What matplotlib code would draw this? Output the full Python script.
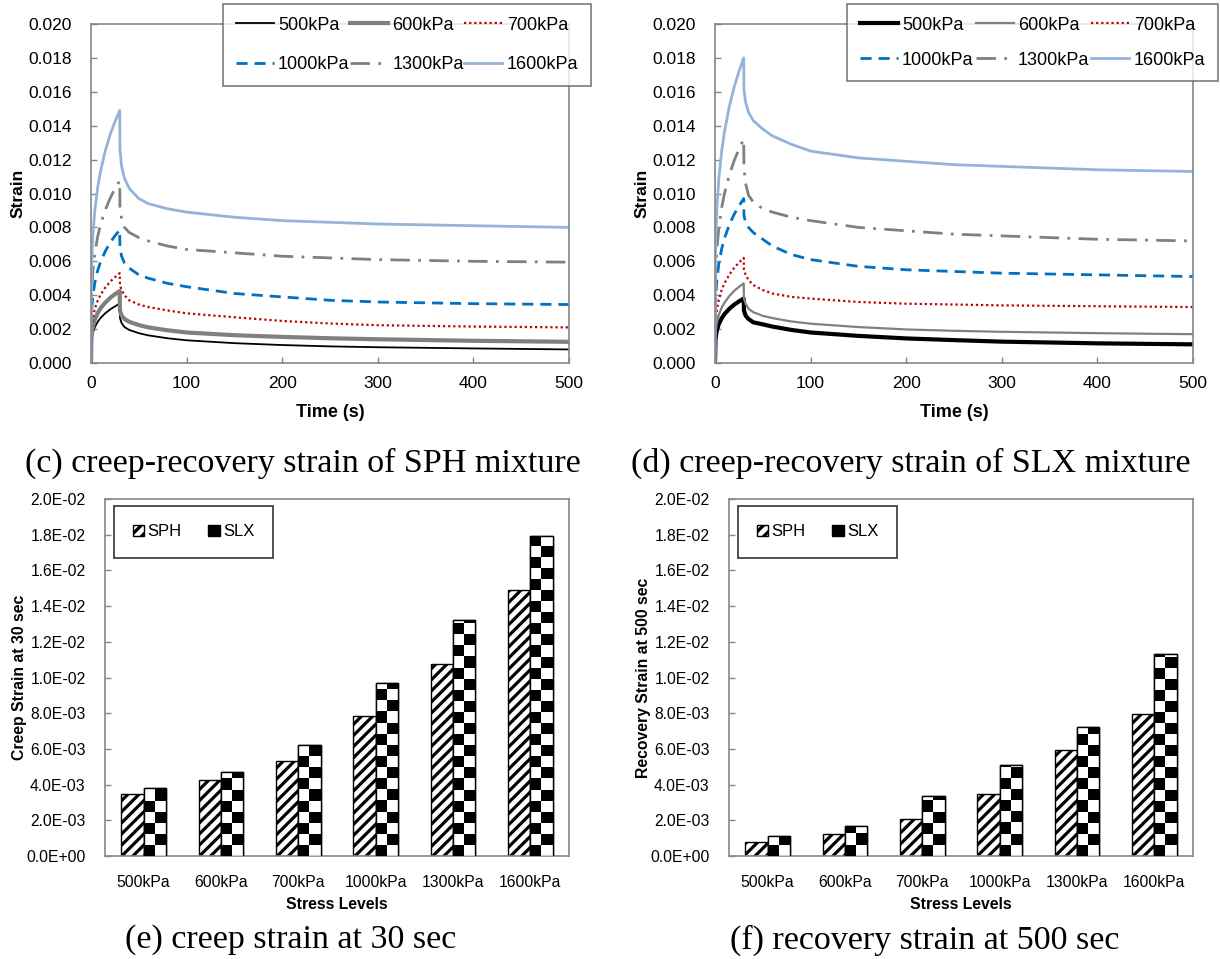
import numpy as np
import matplotlib
matplotlib.use('Agg')
import matplotlib.pyplot as plt
from matplotlib.patches import Patch
from matplotlib.ticker import FuncFormatter, MultipleLocator

plt.rcParams['font.family'] = ['Liberation Sans', 'DejaVu Sans']
plt.rcParams['hatch.linewidth'] = 2.3

# ---- data ----
stress_labels = ['500kPa', '600kPa', '700kPa', '1000kPa', '1300kPa', '1600kPa']

# time (s): loading 0-30 s, then recovery to 500 s
time_s = [0, 0.5, 1, 2, 4, 7, 10, 15, 20, 25, 30,
          30.3, 32, 35, 40, 50, 60, 80, 100, 150, 200, 250, 300, 400, 500]

# SPH mixture strain curves
sph_500 = [0, 0.00126, 0.00149, 0.00178, 0.00211, 0.00243, 0.00266, 0.00294, 0.00316, 0.00334, 0.0035,
           0.00265, 0.00236, 0.00212, 0.00195, 0.00176, 0.00163, 0.00146, 0.00134, 0.00117, 0.00106,
           0.00098, 0.00093, 0.00086, 0.0008]
sph_600 = [0, 0.00153, 0.00181, 0.00216, 0.00257, 0.00295, 0.00323, 0.00357, 0.00384, 0.00406, 0.00425,
           0.0031, 0.0028, 0.0026, 0.00243, 0.00224, 0.0021, 0.00193, 0.0018, 0.00164, 0.00154,
           0.00146, 0.0014, 0.00131, 0.00125]
sph_700 = [0, 0.0019, 0.00226, 0.00269, 0.0032, 0.00368, 0.00403, 0.00446, 0.00479, 0.00506, 0.0053,
           0.0046, 0.0043, 0.0040, 0.0037, 0.00345, 0.0033, 0.0031, 0.00293, 0.0027, 0.00248,
           0.00233, 0.00223, 0.00215, 0.0021]
sph_1000 = [0, 0.00282, 0.00335, 0.00399, 0.00474, 0.00546, 0.00597, 0.0066, 0.0071, 0.0075, 0.00785,
            0.0068, 0.0063, 0.0059, 0.0056, 0.0052, 0.0050, 0.0047, 0.0045, 0.0041, 0.0039,
            0.0037, 0.0036, 0.0035, 0.00345]
sph_1300 = [0, 0.00386, 0.00459, 0.00546, 0.00649, 0.00747, 0.00817, 0.00904, 0.00972, 0.01027, 0.01075,
            0.0092, 0.0085, 0.0080, 0.0077, 0.0074, 0.0072, 0.0069, 0.0067, 0.0065, 0.0063,
            0.0062, 0.0061, 0.0060, 0.00595]
sph_1600 = [0, 0.00535, 0.00636, 0.00757, 0.009, 0.01036, 0.01132, 0.01253, 0.01347, 0.01423, 0.0149,
            0.0126, 0.0116, 0.0109, 0.0103, 0.0097, 0.0094, 0.0091, 0.0089, 0.0086, 0.0084,
            0.0083, 0.0082, 0.0081, 0.0080]

# SLX mixture strain curves
slx_500 = [0, 0.00136, 0.00162, 0.00193, 0.0023, 0.00264, 0.00289, 0.0032, 0.00344, 0.00363, 0.0038,
           0.0031, 0.0028, 0.0026, 0.0024, 0.00228, 0.00215, 0.00195, 0.0018, 0.0016, 0.00145,
           0.00135, 0.00126, 0.00116, 0.0011]
slx_600 = [0, 0.00169, 0.00201, 0.00239, 0.00284, 0.00327, 0.00357, 0.00395, 0.00425, 0.00449, 0.0047,
           0.0038, 0.0035, 0.0032, 0.0030, 0.00278, 0.00265, 0.00245, 0.00232, 0.00212, 0.00198,
           0.0019, 0.00184, 0.00176, 0.0017]
slx_700 = [0, 0.00223, 0.00265, 0.00315, 0.00374, 0.00431, 0.00471, 0.00521, 0.00561, 0.00592, 0.0062,
           0.0055, 0.0052, 0.0049, 0.0046, 0.0043, 0.0041, 0.0039, 0.0038, 0.0036, 0.0035,
           0.00345, 0.0034, 0.00335, 0.0033]
slx_1000 = [0, 0.00348, 0.00414, 0.00493, 0.00586, 0.00674, 0.00737, 0.00816, 0.00877, 0.00926, 0.0097,
            0.0087, 0.0083, 0.0080, 0.0077, 0.0073, 0.0069, 0.0064, 0.0061, 0.0057, 0.0055,
            0.0054, 0.0053, 0.0052, 0.0051]
slx_1300 = [0, 0.00474, 0.00564, 0.00671, 0.00797, 0.00917, 0.01003, 0.0111, 0.01193, 0.01261, 0.0132,
            0.0115, 0.0106, 0.0099, 0.0095, 0.0091, 0.0089, 0.0086, 0.0084, 0.0080, 0.0078,
            0.0076, 0.0075, 0.0073, 0.0072]
slx_1600 = [0, 0.00646, 0.00769, 0.00914, 0.01087, 0.01251, 0.01368, 0.01514, 0.01627, 0.01719, 0.018,
            0.0161, 0.0154, 0.0148, 0.0143, 0.0138, 0.0134, 0.0129, 0.0125, 0.0121, 0.0119,
            0.0117, 0.0116, 0.0114, 0.0113]

# bar values
creep_30_sph = [3.5e-3, 4.25e-3, 5.35e-3, 7.85e-3, 1.075e-2, 1.49e-2]
creep_30_slx = [3.8e-3, 4.7e-3, 6.2e-3, 9.7e-3, 1.32e-2, 1.79e-2]
recov_500_sph = [0.8e-3, 1.25e-3, 2.1e-3, 3.45e-3, 5.95e-3, 7.95e-3]
recov_500_slx = [1.1e-3, 1.7e-3, 3.35e-3, 5.1e-3, 7.2e-3, 1.13e-2]

GRAY = '#868686'
W, H = 1220, 959
fig = plt.figure(figsize=(12.2, 9.59), dpi=100)


def px_axes(x0, y0, x1, y1):
    return fig.add_axes([x0 / W, 1 - y1 / H, (x1 - x0) / W, (y1 - y0) / H])


def style_axes(ax, fs):
    for s in ax.spines.values():
        s.set_color(GRAY)
        s.set_linewidth(1.2)
    ax.tick_params(direction='in', length=4, color=GRAY, labelsize=fs, width=1)


def line_panel(ax, curves, widths, legend_box, spacing):
    styles = [
        dict(color='black', linestyle='-'),
        dict(color='#808080', linestyle='-'),
        dict(color='#C00000', linestyle=(0, (1, 1.3))),
        dict(color='#0070C0', linestyle=(0, (4, 2.5))),
        dict(color='#808080', linestyle=(0, (7, 3, 1, 3))),
        dict(color='#95B3D7', linestyle='-'),
    ]
    lines = []
    for y, st, lw, lab in zip(curves, styles, widths, stress_labels):
        ln, = ax.plot(time_s, y, linewidth=lw, label=lab, **st)
        lines.append(ln)
    ax.set_xlim(0, 500)
    ax.set_ylim(0, 0.020)
    ax.xaxis.set_major_locator(MultipleLocator(100))
    ax.yaxis.set_major_locator(MultipleLocator(0.002))
    ax.yaxis.set_major_formatter(FuncFormatter(lambda v, p: f'{v:.3f}'))
    ax.set_xlabel('Time (s)', fontsize=13, fontweight='bold', labelpad=10)
    ax.set_ylabel('Strain', fontsize=12.5, fontweight='bold')
    ax.yaxis.set_label_coords(-0.136, 0.5)
    style_axes(ax, 12.5)
    ax.tick_params(axis='y', pad=14)
    ax.tick_params(axis='x', pad=9)
    order = [0, 3, 1, 4, 2, 5]
    x0, y0, x1, y1 = legend_box
    leg = fig.legend([lines[i] for i in order], [stress_labels[i] for i in order],
                     ncol=3, loc='upper left', mode='expand',
                     bbox_to_anchor=(x0 / W, 1 - y1 / H, (x1 - x0) / W, (y1 - y0) / H),
                     fontsize=13, frameon=True, fancybox=False, handlelength=2.1,
                     handletextpad=0.25, columnspacing=1.0, labelspacing=spacing,
                     borderaxespad=0, borderpad=0.7)
    leg.get_frame().set_edgecolor('#595959')
    leg.get_frame().set_linewidth(1.2)


def bar_panel(ax, sph, slx, ylabel):
    fs = 11.3
    x = np.arange(len(stress_labels))
    bw = 0.29
    ax.bar(x - bw / 2, sph, bw, color='white', edgecolor='black', hatch='///', linewidth=1, zorder=2)
    rects = ax.bar(x + bw / 2, slx, bw, color='white', edgecolor='black', linewidth=1, zorder=2)
    sq = 0.00062
    for r in rects:
        nrows = int(np.ceil(r.get_height() / sq))
        pattern = np.indices((nrows, 2)).sum(axis=0) % 2
        im = ax.imshow(pattern, cmap='gray', extent=(r.get_x(), r.get_x() + r.get_width(), 0, nrows * sq),
                       origin='lower', aspect='auto', interpolation='nearest', zorder=3)
        im.set_clip_path(r)
    ax.bar(x + bw / 2, slx, bw, fill=False, edgecolor='black', linewidth=1, zorder=4)
    ax.set_xlim(-0.5, len(stress_labels) - 0.5)
    ax.set_ylim(0, 0.02)
    ax.set_xticks(x)
    ax.set_xticklabels(stress_labels)
    ax.yaxis.set_major_locator(MultipleLocator(0.002))
    ax.yaxis.set_major_formatter(FuncFormatter(lambda v, p: f'{v:.1E}'))
    ax.set_xlabel('Stress Levels', fontsize=fs, fontweight='bold', labelpad=5)
    ax.set_ylabel(ylabel, fontsize=fs, fontweight='bold')
    ax.yaxis.set_label_coords(-0.168, 0.5)
    style_axes(ax, fs)
    ax.tick_params(axis='y', pad=14)
    ax.tick_params(axis='x', length=0, pad=14)
    handles = [Patch(facecolor='white', edgecolor='black', hatch='///'),
               Patch(facecolor='black', edgecolor='black')]
    leg = ax.legend(handles, ['SPH', 'SLX'], ncol=2, loc='upper left',
                    bbox_to_anchor=(0.02, 0.98), fontsize=12, frameon=True, fancybox=False,
                    handlelength=0.7, handleheight=0.7, handletextpad=0.2, columnspacing=1.6,
                    borderpad=1.1, borderaxespad=0)
    leg.get_frame().set_edgecolor('black')
    leg.get_frame().set_linewidth(1.2)


ax_c = px_axes(91, 24, 569, 363)
line_panel(ax_c, [sph_500, sph_600, sph_700, sph_1000, sph_1300, sph_1600],
           [1.3, 3.0, 1.6, 2.0, 2.0, 2.0], (223, 4, 591, 88), 1.25)

ax_d = px_axes(715, 24, 1193, 363)
line_panel(ax_d, [slx_500, slx_600, slx_700, slx_1000, slx_1300, slx_1600],
           [3.0, 1.6, 1.6, 2.0, 2.0, 2.0], (847, 4, 1218, 82), 1.0)

ax_e = px_axes(105, 499, 569, 856)
bar_panel(ax_e, creep_30_sph, creep_30_slx, 'Creep Strain at 30 sec')

ax_f = px_axes(729, 499, 1193, 856)
bar_panel(ax_f, recov_500_sph, recov_500_slx, 'Recovery Strain at 500 sec')

cap = dict(fontsize=24.5, family='Liberation Serif', ha='center', va='center')
fig.text(303 / W, 1 - 463 / H, '(c) creep-recovery strain of SPH mixture', **cap)
fig.text(911 / W, 1 - 463 / H, '(d) creep-recovery strain of SLX mixture', **cap)
fig.text(291 / W, 1 - 940 / H, '(e) creep strain at 30 sec', **cap)
fig.text(925 / W, 1 - 940 / H, '(f) recovery strain at 500 sec', **cap)

fig.savefig('out.png', dpi=100)
